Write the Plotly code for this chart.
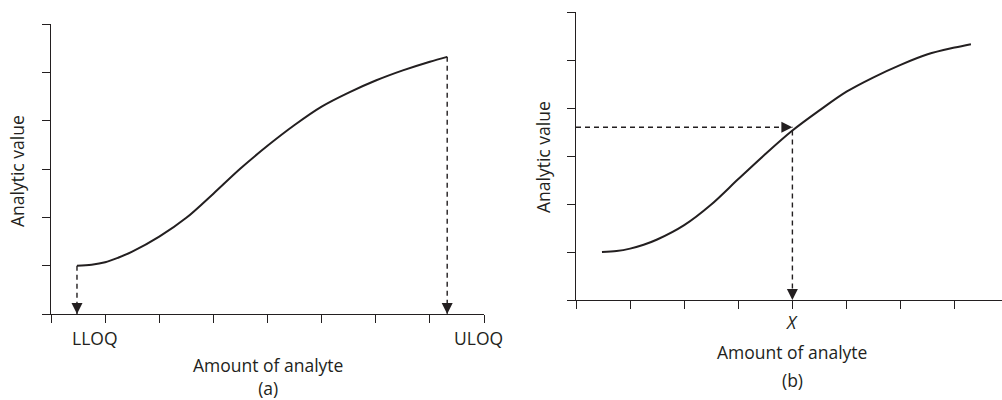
import plotly.graph_objects as go

# Calibration curve, panel (a): amount of analyte vs analytic value
curve_a_x = [0.48, 0.75, 1.0, 1.25, 1.5, 2.0, 2.5, 3.0, 3.5, 4.0, 4.5, 5.0, 5.5, 6.0, 6.5, 7.0, 7.32]
curve_a_y = [1.0, 1.02, 1.07, 1.17, 1.29, 1.60, 1.99, 2.49, 3.01, 3.48, 3.91, 4.29, 4.58, 4.83, 5.04, 5.22, 5.32]

# Calibration curve, panel (b)
curve_b_x = [0.48, 0.75, 1.0, 1.25, 1.5, 2.0, 2.5, 3.0, 3.5, 4.0, 4.5, 5.0, 5.5, 6.0, 6.5, 7.0, 7.30]
curve_b_y = [1.0, 1.02, 1.07, 1.15, 1.26, 1.56, 1.99, 2.52, 3.04, 3.53, 3.95, 4.34, 4.64, 4.90, 5.12, 5.26, 5.33]

# Quantification limits (panel a) and read-back point (panel b)
lloq_x, lloq_y = 0.48, 1.0
uloq_x, uloq_y = 7.32, 5.32
read_x, read_curve_y, read_level = 4.0, 3.53, 3.6

tick_vals_x = [0, 1, 2, 3, 4, 5, 6, 7, 8]
tick_vals_y = [0, 1, 2, 3, 4, 5, 6]

INK = "#231f20"
FONT = "Open Sans"
FS = 17.5

fig = go.Figure()

line_style = dict(color=INK, width=2, shape="spline", smoothing=0.9)
dash_style = dict(color=INK, width=1.4, dash="5px,4px")

fig.add_trace(go.Scatter(x=curve_a_x, y=curve_a_y, mode="lines", line=line_style,
                         xaxis="x", yaxis="y"))
fig.add_trace(go.Scatter(x=[lloq_x, lloq_x], y=[lloq_y, 0], mode="lines", line=dash_style,
                         xaxis="x", yaxis="y"))
fig.add_trace(go.Scatter(x=[uloq_x, uloq_x], y=[uloq_y, 0], mode="lines", line=dash_style,
                         xaxis="x", yaxis="y"))

fig.add_trace(go.Scatter(x=curve_b_x, y=curve_b_y, mode="lines", line=line_style,
                         xaxis="x2", yaxis="y2"))
fig.add_trace(go.Scatter(x=[0, read_x], y=[read_level, read_level], mode="lines", line=dash_style,
                         xaxis="x2", yaxis="y2"))
fig.add_trace(go.Scatter(x=[read_x, read_x], y=[read_curve_y, 0], mode="lines", line=dash_style,
                         xaxis="x2", yaxis="y2"))

# Arrowheads as pixel-sized triangles anchored at their tips
down_tri = "M-5.5,11 L5.5,11 L0,0 Z"
right_tri = "M-11,5.5 L-11,-5.5 L0,0 Z"
shapes = []
for xr, yr, ax, ay, p in [("x", "y", lloq_x, 0, down_tri),
                          ("x", "y", uloq_x, 0, down_tri),
                          ("x2", "y2", read_x, 0, down_tri),
                          ("x2", "y2", read_x, read_level, right_tri)]:
    shapes.append(dict(type="path", xref=xr, yref=yr, xsizemode="pixel", ysizemode="pixel",
                       xanchor=ax, yanchor=ay, path=p, fillcolor=INK, line=dict(width=0)))

axis_common = dict(showline=True, linecolor=INK, linewidth=1.4, ticks="outside", ticklen=8,
                   tickwidth=1.3, tickcolor=INK, showticklabels=False, showgrid=False,
                   zeroline=False, fixedrange=True)

W, H = 1002, 400
fig.update_layout(
    width=W, height=H, margin=dict(l=0, r=0, t=0, b=0),
    paper_bgcolor="white", plot_bgcolor="white", showlegend=False,
    font=dict(family=FONT, size=FS, color=INK),
    xaxis=dict(domain=[51 / W, 484 / W], range=[0, 8], tickvals=tick_vals_x, anchor="y", **axis_common),
    yaxis=dict(domain=[1 - 314 / H, 1 - 24 / H], range=[0, 6], tickvals=tick_vals_y, anchor="x", **axis_common),
    xaxis2=dict(domain=[576 / W, 1.0], range=[0, (W - 576) / 54.1], tickvals=tick_vals_x, anchor="y2", **axis_common),
    yaxis2=dict(domain=[1 - 300 / H, 1 - 12 / H], range=[0, 6], tickvals=tick_vals_y, anchor="x2", **axis_common),
    shapes=shapes,
)

c = dict(showarrow=False, xanchor="center", yanchor="middle")
ann = []
ann.append(dict(text="LLOQ", x=0.81, y=0, xref="x", yref="y", yshift=-24, **c))
ann.append(dict(text="ULOQ", x=7.89, y=0, xref="x", yref="y", yshift=-24, **c))
ann.append(dict(text="<i>X</i>", x=read_x, y=0, xref="x2", yref="y2", yshift=-22, **c))
ann.append(dict(text="Amount of analyte<br>(a)", x=4.0, y=1 - 376 / H, xref="x", yref="paper", **c))
ann.append(dict(text="Amount of analyte", x=4.0, y=1 - 352 / H, xref="x2", yref="paper", **c))
ann.append(dict(text="(b)", x=4.0, y=1 - 380 / H, xref="x2", yref="paper", **c))
ann.append(dict(text="Analytic value", x=17 / W, y=1 - 171 / H, xref="paper", yref="paper",
                textangle=-90, **c))
ann.append(dict(text="Analytic value", x=543 / W, y=1 - 157 / H, xref="paper", yref="paper",
                textangle=-90, **c))
fig.update_layout(annotations=ann)

fig.write_html("out.html")
